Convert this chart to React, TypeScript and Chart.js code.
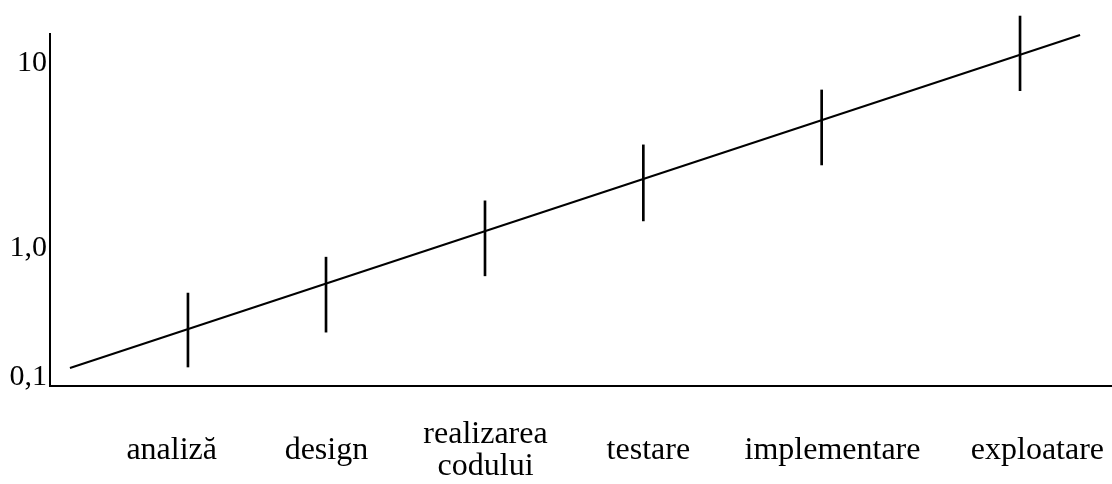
import React, { useEffect, useRef } from "react";
import { Chart, registerables } from "chart.js";

Chart.register(...registerables);

// Stage labels along the horizontal axis and where they sit (axis units 0..100)
const stageLabels: (string | string[])[] = [
  "analiză",
  "design",
  ["realizarea", "codului"],
  "testare",
  "implementare",
  "exploatare",
];
const stageLabelPositions = [11.46, 26.03, 41.01, 56.34, 73.68, 92.98];

// Vertical range marks for each stage (x position, low, high), axis units
const stageX = [12.99, 25.99, 40.96, 55.87, 72.66, 91.34];
const stageLow = [0.54, 1.53, 3.13, 4.69, 6.28, 8.39];
const stageHigh = [2.64, 3.66, 5.26, 6.85, 8.41, 10.51];

// Trend line end points
const trendX = [1.88, 96.99];
const trendY = [0.51, 9.97];

// Vertical axis tick labels and their positions (axis units 0..10)
const yTickValues = [0.24, 3.92, 9.18];
const yTickLabels = ["0,1", "1,0", "10"];

const FONT = "'Liberation Serif', 'Times New Roman', serif";

export default function App() {
  const canvasRef = useRef<HTMLCanvasElement | null>(null);

  useEffect(() => {
    document.body.style.margin = "0";
    const canvas = canvasRef.current;
    if (!canvas) return;

    const barData = stageX.map((x, i) => ({ x, y: [stageLow[i], stageHigh[i]] }));
    const lineData = trendX.map((x, i) => ({ x, y: trendY[i] }));

    const chart = new Chart(canvas, {
      type: "bar",
      data: {
        datasets: [
          {
            type: "bar",
            data: barData as any,
            backgroundColor: "#000",
            borderWidth: 0,
            barThickness: 2,
            clip: false as any,
          },
          {
            type: "line",
            data: lineData as any,
            borderColor: "#000",
            borderWidth: 2,
            pointRadius: 0,
            fill: false,
            tension: 0,
            clip: false as any,
          },
        ],
      },
      options: {
        responsive: false,
        animation: false,
        devicePixelRatio: 1,
        layout: { padding: { top: 34, left: 0, right: 0, bottom: 0 } },
        plugins: {
          legend: { display: false },
          tooltip: { enabled: false },
        },
        scales: {
          x: {
            type: "linear",
            min: 0,
            max: 100,
            offset: false,
            grid: { display: false, drawTicks: false, drawOnChartArea: false },
            border: { display: true, color: "#000", width: 2 },
            afterBuildTicks: (scale: any) => {
              scale.ticks = stageLabelPositions.map((v) => ({ value: v }));
            },
            afterFit: (scale: any) => {
              scale.height = 98;
              scale.paddingLeft = 0;
              scale.paddingRight = 0;
            },
            ticks: {
              autoSkip: false,
              maxRotation: 0,
              minRotation: 0,
              padding: 49,
              crossAlign: "center",
              color: "#000",
              font: { family: FONT, size: 32, lineHeight: 1.0 },
              callback: (_v: any, i: number) => stageLabels[i],
            },
          },
          y: {
            type: "linear",
            min: 0,
            max: 10,
            grid: { display: false, drawTicks: false, drawOnChartArea: false },
            border: { display: true, color: "#000", width: 2 },
            afterBuildTicks: (scale: any) => {
              scale.ticks = yTickValues.map((v) => ({ value: v }));
            },
            afterFit: (scale: any) => {
              scale.width = 50;
              scale.paddingTop = 0;
              scale.paddingBottom = 0;
            },
            ticks: {
              autoSkip: false,
              padding: 3,
              color: "#000",
              font: { family: FONT, size: 30 },
              callback: (_v: any, i: number) => yTickLabels[i],
            },
          },
        },
      },
    });

    return () => chart.destroy();
  }, []);

  return (
    <div style={{ width: 1112, height: 484 }}>
      <canvas ref={canvasRef} width={1112} height={484} />
    </div>
  );
}
